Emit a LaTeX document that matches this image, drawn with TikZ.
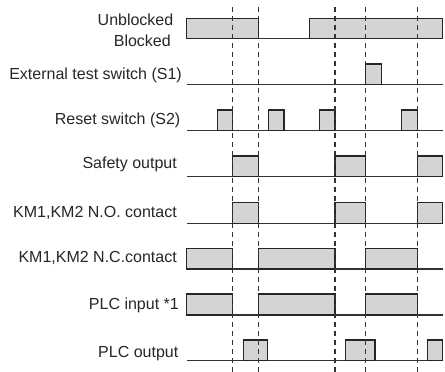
\documentclass[tikz,border=0pt]{standalone}
\usepackage{fontspec}
\setmainfont{Liberation Sans}
\begin{document}
\begin{tikzpicture}[x=1pt,y=-1pt,
  lbl/.style={anchor=east,inner sep=0pt,font=\fontsize{16}{18}\selectfont,text=black!85},
  wave/.style={draw=black!80,line width=1.1pt},
  hi/.style={draw=black!85,fill=black!17,line width=1.2pt},
  guide/.style={draw=black!80,line width=1.4pt,dash pattern=on 5pt off 4pt}]
\useasboundingbox (0,0) rectangle (445,372);
% labels
\node[lbl] (l1a) at (173.5,20) {Unblocked};
\node[lbl] (l1b) at (171,40.5) {Blocked};
\node[lbl] (l2) at (182,75) {External test switch (S1)};
\node[lbl] (l3) at (180.5,120.7) {Reset switch (S2)};
\node[lbl] (l4) at (177,164.3) {Safety output};
\node[lbl] (l5) at (177,212.7) {KM1,KM2 N.O. contact};
\node[lbl] (l6) at (177,257.7) {KM1,KM2 N.C.contact};
\node[lbl] (l7) at (179,305.7) {PLC input *1};
\node[lbl] (l8) at (178.5,354) {PLC output};
% baselines
\foreach \b in {38.3,84.3,130.7,176.7,223.3,269,315,360.7}
  \draw[wave] (186.7,\b) -- (442.7,\b);
% row 1
\draw[hi] (186.7,18.3) rectangle (258.7,38.3);
\draw[hi] (309.3,18.3) rectangle (442.7,38.3);
% row 2
\draw[hi] (365.7,64) rectangle (381.3,84.3);
% row 3
\foreach \a/\c in {217.3/232.7,268.7/284,319.7/335,401.7/417.3}
  \draw[hi] (\a,110) rectangle (\c,130.7);
% rows 4,5
\foreach \t/\b in {156/176.7,202.3/223.3}
  \foreach \a/\c in {232.7/258.7,335/365.7,417.3/442.7}
    \draw[hi] (\a,\t) rectangle (\c,\b);
% rows 6,7
\foreach \t/\b in {248.3/269,294/315}
  \foreach \a/\c in {186.7/232.7,258.7/335,365.7/417.3}
    \draw[hi] (\a,\t) rectangle (\c,\b);
% row 8
\foreach \a/\c in {243.3/267.7,345.7/375,427.3/442.7}
  \draw[hi] (\a,340) rectangle (\c,360.7);
% dashed guides
\foreach \x in {232.7,258.7,335,365.7,417.3}
  \draw[guide] (\x,7) -- (\x,372);
\end{tikzpicture}
\end{document}
